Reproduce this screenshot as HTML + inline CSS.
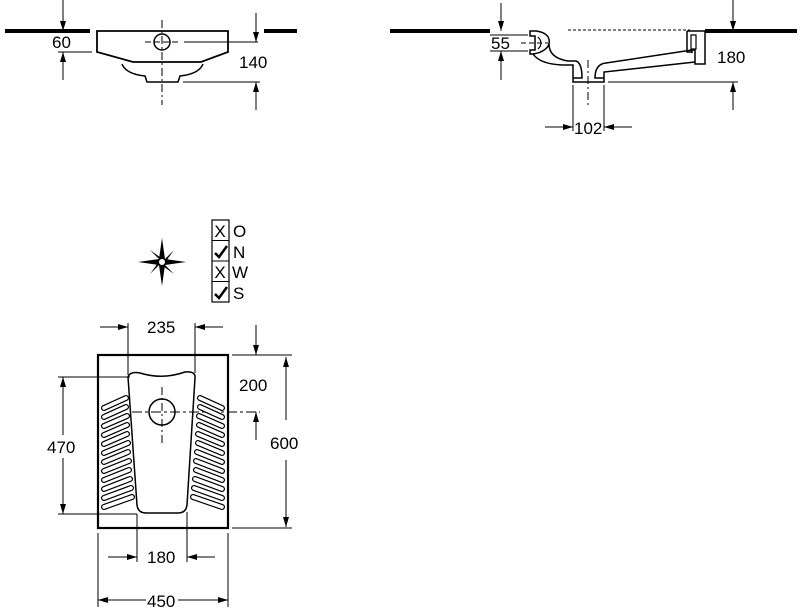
<!DOCTYPE html>
<html><head><meta charset="utf-8"><style>
html,body{margin:0;padding:0;background:#fff}
svg{display:block}
text{font-family:"Liberation Sans",Arial,sans-serif;font-size:17px;fill:#000}
</style></head><body>
<svg width="800" height="614" viewBox="0 0 800 614" xmlns="http://www.w3.org/2000/svg">
<defs>
<marker id="a" viewBox="0 0 10 6" refX="10" refY="3" markerWidth="10" markerHeight="6" orient="auto" markerUnits="userSpaceOnUse"><path d="M0,0L10,3L0,6z" fill="#000"/></marker>
</defs>
<g stroke="#000" fill="none" stroke-width="1">
<!-- top left -->
<line x1="5" y1="31" x2="90" y2="31" stroke-width="4"/>
<line x1="264" y1="31" x2="297" y2="31" stroke-width="4"/>
<path d="M97,31 H228 V52 L201,62 H133 L97,52 Z" stroke-width="1.8"/>
<path d="M122,64 Q126,74 145,76 L147,82 H178 L180,76 Q199,74 203,64" stroke-width="1.5"/>
<circle cx="162" cy="42" r="8" stroke-width="1.5"/>
<line x1="162" y1="20" x2="162" y2="105" stroke-dasharray="8,3,2,3"/>
<line x1="145" y1="42" x2="180" y2="42" stroke-dasharray="6,3"/>
<line x1="184" y1="42" x2="258" y2="42"/>
<line x1="63" y1="0" x2="63" y2="31" marker-end="url(#a)"/>
<line x1="58" y1="52" x2="92" y2="52"/>
<line x1="63" y1="80" x2="63" y2="52" marker-end="url(#a)"/>
<line x1="256" y1="13" x2="256" y2="42" marker-end="url(#a)"/>
<line x1="183" y1="82" x2="260" y2="82"/>
<line x1="256" y1="110" x2="256" y2="82" marker-end="url(#a)"/>
<!-- top right -->
<line x1="390" y1="31" x2="490" y2="31" stroke-width="4"/>
<line x1="705" y1="31" x2="797" y2="31" stroke-width="4"/>
<line x1="568" y1="30" x2="690" y2="30" stroke-dasharray="3,2"/>
<!-- lip -->
<path d="M530,31 H536 Q551,33 549,44 Q546,52 533,54 L530,54 V50 H535 V36 H530 Z" stroke-width="1.5"/>
<path d="M538,37 Q544,43 538,49" stroke-width="1.2"/>
<!-- bowl outer -->
<path d="M533,54 Q540,64 562,65 H573 V82 H604 V72 L695,62" stroke-width="1.5"/>
<!-- bowl inner -->
<path d="M549,44 Q549,58 568,61 H576 Q582,63 582,78 H573" stroke-width="1.5"/>
<path d="M604,78 H595 Q595,64 606,63 L692,50" stroke-width="1.5"/>
<!-- bracket -->
<path d="M687,31 H705 V64 H695 V50 H692 V53" stroke-width="1.5"/>
<path d="M687,31 V52 H692" stroke-width="1.5"/>
<path d="M691,35 V49 H696 V35 Z" stroke-width="1.2"/>
<line x1="588" y1="60" x2="588" y2="106" stroke-dasharray="8,3,2,3"/>
<line x1="521" y1="43" x2="548" y2="43" stroke-dasharray="5,3"/>
<line x1="501" y1="3" x2="501" y2="31" marker-end="url(#a)"/>
<line x1="490" y1="35" x2="528" y2="35"/>
<line x1="490" y1="51" x2="528" y2="51"/>
<line x1="501" y1="80" x2="501" y2="51" marker-end="url(#a)"/>
<line x1="733" y1="0" x2="733" y2="31" marker-end="url(#a)"/>
<line x1="608" y1="82" x2="738" y2="82"/>
<line x1="733" y1="110" x2="733" y2="82" marker-end="url(#a)"/>
<line x1="573" y1="85" x2="573" y2="131"/>
<line x1="604" y1="85" x2="604" y2="131"/>
<line x1="545" y1="127" x2="573" y2="127" marker-end="url(#a)"/>
<line x1="632" y1="127" x2="604" y2="127" marker-end="url(#a)"/>
<!-- checkboxes -->
<rect x="212" y="220" width="17" height="82" stroke-width="1.2"/>
<line x1="212" y1="240.5" x2="229" y2="240.5"/>
<line x1="212" y1="261" x2="229" y2="261"/>
<line x1="212" y1="281.5" x2="229" y2="281.5"/>
<path d="M215,253 L219,257 L227,246" stroke-width="2.5"/>
<path d="M215,294 L219,298 L227,287" stroke-width="2.5"/>
<!-- bottom -->
<rect x="98" y="355" width="130" height="173" stroke-width="2.2"/>
<path d="M128,377 Q130,371 140,373 Q162,380 185,372 Q196,371 195,378 L187,505 Q186,513 178,513 H146 Q138,513 137,505 Z" stroke-width="1.5"/>
<circle cx="162" cy="412" r="13" stroke-width="1.5"/>
<line x1="162" y1="387" x2="162" y2="443" stroke-dasharray="8,3,2,3"/>
<line x1="132" y1="412" x2="260" y2="412" stroke-dasharray="10,3,3,3"/>
<line x1="128" y1="323" x2="128" y2="375"/>
<line x1="195" y1="323" x2="195" y2="373"/>
<line x1="100" y1="327" x2="128" y2="327" marker-end="url(#a)"/>
<line x1="223" y1="327" x2="195" y2="327" marker-end="url(#a)"/>
<line x1="256" y1="325" x2="256" y2="355" marker-end="url(#a)"/>
<line x1="256" y1="440" x2="256" y2="412" marker-end="url(#a)"/>
<line x1="232" y1="355" x2="292" y2="355"/>
<line x1="232" y1="528" x2="292" y2="528"/>
<line x1="286" y1="420" x2="286" y2="357" marker-end="url(#a)"/>
<line x1="286" y1="460" x2="286" y2="527" marker-end="url(#a)"/>
<line x1="58" y1="377" x2="130" y2="377"/>
<line x1="58" y1="514" x2="137" y2="514"/>
<line x1="63" y1="435" x2="63" y2="377" marker-end="url(#a)"/>
<line x1="63" y1="458" x2="63" y2="514" marker-end="url(#a)"/>
<line x1="137" y1="514" x2="137" y2="562"/>
<line x1="187" y1="512" x2="187" y2="562"/>
<line x1="108" y1="557" x2="137" y2="557" marker-end="url(#a)"/>
<line x1="215" y1="557" x2="187" y2="557" marker-end="url(#a)"/>
<line x1="98" y1="533" x2="98" y2="607"/>
<line x1="228" y1="533" x2="228" y2="607"/>
<line x1="146" y1="600" x2="98" y2="600" marker-end="url(#a)"/>
<line x1="178" y1="600" x2="228" y2="600" marker-end="url(#a)"/>
</g>
<!-- ridges -->
<g stroke-linecap="round">
<g stroke="#000" stroke-width="6">
<path d="M104,408 L126,398 M104,417 L126,407 M104,426 L127,416 M104,435 L127,425 M104,444 L127,434 M104,453 L128,443 M104,462 L128,452 M104,471 L129,461 M104,480 L129,470 M104,489 L130,479 M104,498 L131,488 M104,507 L132,497"/>
<path d="M222,408 L200,398 M222,417 L200,407 M222,426 L199,416 M222,435 L199,425 M222,444 L198,434 M222,453 L198,443 M222,462 L197,452 M222,471 L196,461 M222,480 L196,470 M222,489 L195,479 M222,498 L194,488 M222,507 L193,497"/>
</g>
<g stroke="#fff" stroke-width="3.6">
<path d="M104,408 L126,398 M104,417 L126,407 M104,426 L127,416 M104,435 L127,425 M104,444 L127,434 M104,453 L128,443 M104,462 L128,452 M104,471 L129,461 M104,480 L129,470 M104,489 L130,479 M104,498 L131,488 M104,507 L132,497"/>
<path d="M222,408 L200,398 M222,417 L200,407 M222,426 L199,416 M222,435 L199,425 M222,444 L198,434 M222,453 L198,443 M222,462 L197,452 M222,471 L196,461 M222,480 L196,470 M222,489 L195,479 M222,498 L194,488 M222,507 L193,497"/>
</g>
</g>
<!-- compass -->
<g fill="#000">
<path d="M162,238 L165,259 L186,262 L165,265 L162,286 L159,265 L138,262 L159,259 Z"/>
<path d="M150,250 L164,260 L174,250 L164,264 L174,274 L160,264 L150,274 L160,260 Z"/>
<circle cx="162" cy="262" r="3" fill="#fff"/>
</g>
<text x="52" y="48">60</text>
<text x="239" y="68">140</text>
<text x="491" y="49">55</text>
<text x="717" y="63">180</text>
<text x="574" y="134">102</text>
<text x="233" y="237">O</text>
<text x="233" y="258">N</text>
<text x="232" y="278">W</text>
<text x="233" y="299">S</text>
<text x="220" y="237" text-anchor="middle">X</text>
<text x="220" y="278" text-anchor="middle">X</text>
<text x="147" y="333">235</text>
<text x="239" y="391">200</text>
<text x="270" y="449">600</text>
<text x="47" y="453">470</text>
<text x="147" y="563">180</text>
<text x="147" y="607">450</text>
</svg>
</body></html>
